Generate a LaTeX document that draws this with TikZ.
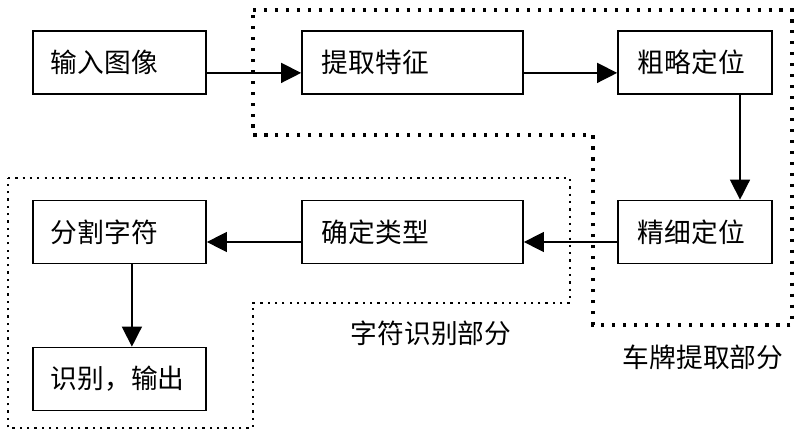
\documentclass[tikz,border=0pt]{standalone}
\usepackage{fontspec}
\newfontfamily\cjk{Noto Sans CJK SC}
\usetikzlibrary{arrows.meta}

\tikzset{
  caja/.style={draw, line width=1.2pt, minimum height=1.575cm,
    inner xsep=0.5cm, inner ysep=0pt, align=left, text width=#1,
    font=\cjk\fontsize{19}{22}\selectfont},
  flecha/.style={line width=1pt, -{Triangle[length=0.5cm,width=0.5cm]}},
  zonaplaca/.style={line width=2.2pt, dash pattern=on 2.2pt off 5.6pt},
  zonaletra/.style={line width=1.6pt, dash pattern=on 1.6pt off 3.6pt},
  etiqueta/.style={font=\cjk\fontsize{19}{22}\selectfont}
}

\begin{document}
\begin{tikzpicture}[x=0.025cm, y=-0.025cm]
        \useasboundingbox (0,0) rectangle (800,446);

        % Paso 1: Zonas punteadas de cada parte
        \draw[zonaplaca] (253,10) -- (792,10) -- (792,325) -- (593,325)
            -- (593,135) -- (253,135) -- cycle;
        \draw[zonaletra] (8,178) -- (570,178) -- (570,303) -- (253,303)
            -- (253,428) -- (8,428) -- cycle;

        % Paso 2: Cajas de los pasos
        \node[caja=3.425cm, inner xsep=0.45cm] (entrada) at (119.5,62.5) {输入图像};
        \node[caja=4.525cm] (rasgos) at (412.5,62.5) {提取特征};
        \node[caja=2.85cm] (burdo) at (695,62.5) {粗略定位};
        \node[caja=2.85cm] (fino) at (695,232) {精细定位};
        \node[caja=4.525cm] (tipo) at (412.5,232) {确定类型};
        \node[caja=3.425cm, inner xsep=0.45cm] (corte) at (119.5,232) {分割字符};
        \node[caja=3.425cm, inner xsep=0.45cm] (salida) at (119.5,379) {识别，输出};

        % Paso 3: Etiquetas de las zonas
        \node[etiqueta] (nomletra) at (431,333) {字符识别部分};
        \node[etiqueta] (nomplaca) at (703,357) {车牌提取部分};

        % Paso 4: Flechas entre los pasos
        \draw[flecha] ([yshift=-0.26cm]entrada.east) -- ([yshift=-0.26cm]rasgos.west);
        \draw[flecha] ([yshift=-0.26cm]rasgos.east) -- ([yshift=-0.26cm]burdo.west);
        \draw[flecha] ([xshift=1.125cm]burdo.south) -- ([xshift=1.125cm]fino.north);
        \draw[flecha] ([yshift=-0.25cm]fino.west) -- ([yshift=-0.25cm]tipo.east);
        \draw[flecha] ([yshift=-0.25cm]tipo.west) -- ([yshift=-0.25cm]corte.east);
        \draw[flecha] ([xshift=0.31cm]corte.south) -- ([xshift=0.31cm]salida.north);
\end{tikzpicture}
\end{document}
